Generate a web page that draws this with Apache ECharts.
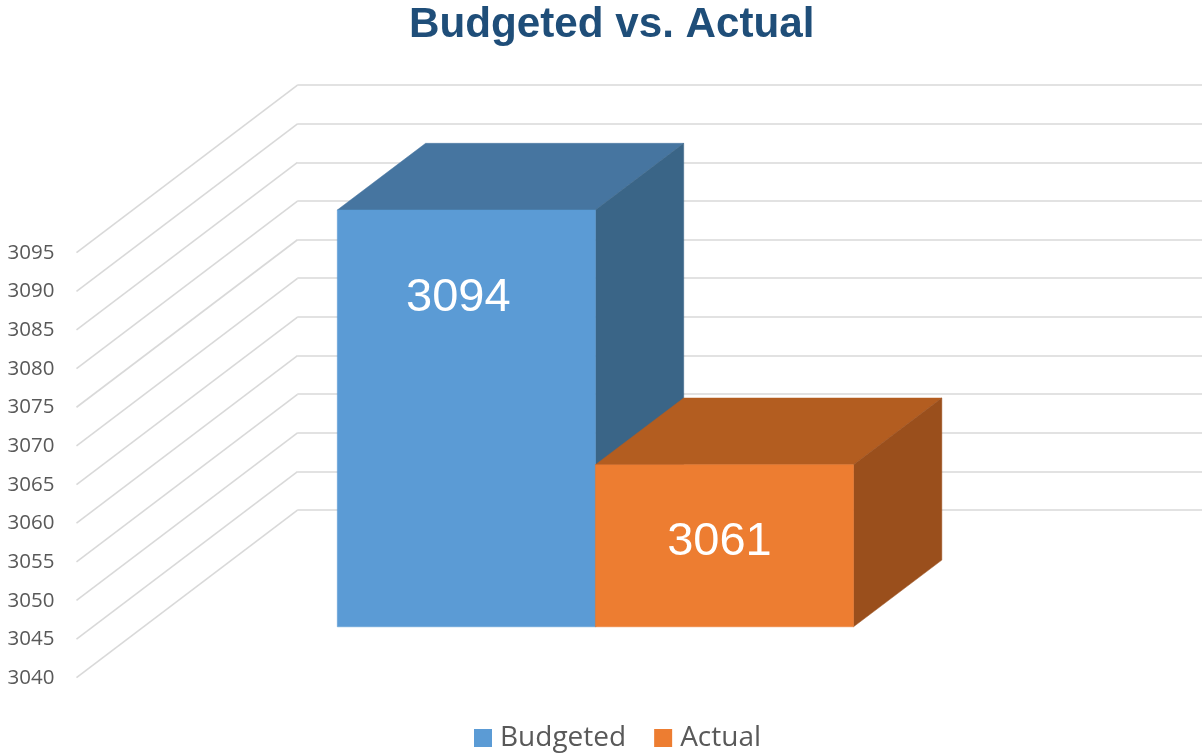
<!DOCTYPE html>
<html>
<head>
<meta charset="utf-8">
<style>html,body{margin:0;padding:0;background:#fff}#chart{width:1204px;height:753px}</style>
<script src="https://cdn.jsdelivr.net/npm/echarts@6/dist/echarts.min.js"></script>
</head>
<body>
<div id="chart"></div>
<script>
// Chart data
const categories = ['Budgeted', 'Actual'];
const budgetedValues = [3094];
const actualValues = [3061];
const axisTicks = [3040, 3045, 3050, 3055, 3060, 3065, 3070, 3075, 3080, 3085, 3090, 3095];

// Oblique projection: depth of the side wall and of the boxes, in pixels
const WALL_DX = 221, WALL_DY = 167.5;
const BOX_DX = 88.3, BOX_DY = 66.7;
const PLOT_H = 425;

const yRange = { type: 'value', min: 3040, max: 3095, interval: 5 };

// Draws a box with front, top and side faces, plus its value inside the front face
function boxRenderer(faces, labelDx, labelDy) {
  return function (params, api) {
    const top = api.coord([api.value(0), api.value(1)]);
    const base = api.coord([api.value(0), 3040]);
    const half = api.size([1, 0])[0] / 2;
    const l = top[0] - half, r = top[0] + half, t = top[1], b = base[1];
    const poly = (points, fill) => ({
      type: 'polygon', shape: { points }, style: { fill, stroke: fill, lineWidth: 0.5 }
    });
    return {
      type: 'group',
      children: [
        poly([[l, t], [r, t], [r + BOX_DX, t - BOX_DY], [l + BOX_DX, t - BOX_DY]], faces.top),
        poly([[r, t], [r + BOX_DX, t - BOX_DY], [r + BOX_DX, b - BOX_DY], [r, b]], faces.side),
        poly([[l, t], [r, t], [r, b], [l, b]], faces.front),
        {
          type: 'text',
          x: top[0] + labelDx, y: t + labelDy,
          style: {
            text: String(api.value(1)), fill: '#fff',
            font: '47px "Liberation Sans", Arial, sans-serif',
            align: 'center', verticalAlign: 'middle'
          }
        }
      ]
    };
  };
}

const chart = echarts.init(document.getElementById('chart'), null, { renderer: 'canvas' });
chart.setOption({
  animation: false,
  backgroundColor: '#fff',
  title: {
    text: 'Budgeted vs. Actual',
    left: 404, top: -1,
    textStyle: { color: '#1F4E79', fontSize: 42.2, fontWeight: 'bold', fontFamily: '"Liberation Sans", Arial, sans-serif' }
  },
  legend: {
    data: categories,
    left: 474, top: 724, padding: 0,
    icon: 'rect', itemWidth: 18, itemHeight: 18, itemGap: 28,
    textStyle: { color: '#595959', fontSize: 28, fontFamily: '"Open Sans", sans-serif', padding: [0, 0, 0, 3] }
  },
  grid: [
    // back wall
    { left: 297.3, top: 85, width: 904.7, height: PLOT_H, outerBoundsMode: 'none' },
    // front edge of the side wall, carries the tick labels
    { left: 76.5, top: 253, width: WALL_DX, height: PLOT_H, outerBoundsMode: 'none' },
    // floor plane of the boxes
    { left: 337.3, top: 202.3, width: 516.2, height: 424.5, outerBoundsMode: 'none' }
  ],
  xAxis: [
    { gridIndex: 0, type: 'value', min: 0, max: 1, show: false },
    { gridIndex: 1, type: 'value', min: 0, max: 1, show: false },
    { gridIndex: 2, type: 'category', data: categories, show: false }
  ],
  yAxis: [
    Object.assign({ gridIndex: 0, axisLine: { show: false }, axisTick: { show: false }, axisLabel: { show: false },
      splitLine: { show: true, lineStyle: { color: '#D9D9D9', width: 1.6 } } }, yRange),
    Object.assign({ gridIndex: 1, axisLine: { show: false }, axisTick: { show: false }, splitLine: { show: false },
      axisLabel: { color: '#595959', fontSize: 20.5, margin: 22, fontFamily: '"Open Sans", sans-serif', formatter: v => String(v) } }, yRange),
    Object.assign({ gridIndex: 2, show: false, splitLine: { show: false } }, yRange)
  ],
  series: [
    {
      // diagonal gridlines along the side wall
      type: 'custom', name: 'wall', xAxisIndex: 1, yAxisIndex: 1, silent: true, z: 1,
      data: axisTicks.map(v => [0, v]),
      encode: { x: 0, y: 1 },
      renderItem: (params, api) => {
        const p = api.coord([0, api.value(1)]);
        return {
          type: 'line',
          shape: { x1: p[0], y1: p[1] - 0.3, x2: p[0] + WALL_DX, y2: p[1] - WALL_DY - 0.3 },
          style: { stroke: '#D9D9D9', lineWidth: 1.6 }
        };
      }
    },
    {
      type: 'custom', name: categories[0], xAxisIndex: 2, yAxisIndex: 2, z: 3,
      itemStyle: { color: '#5B9BD5' },
      data: budgetedValues.map(v => [0, v]),
      encode: { x: 0, y: 1 },
      renderItem: boxRenderer({ front: '#5B9BD5', top: '#4675A0', side: '#3A6587' }, -8, 88)
    },
    {
      type: 'custom', name: categories[1], xAxisIndex: 2, yAxisIndex: 2, z: 4,
      itemStyle: { color: '#ED7D31' },
      data: actualValues.map(v => [1, v]),
      encode: { x: 0, y: 1 },
      renderItem: boxRenderer({ front: '#ED7D31', top: '#B35D20', side: '#9A4F1C' }, -5, 77)
    }
  ]
});
</script>
</body>
</html>
